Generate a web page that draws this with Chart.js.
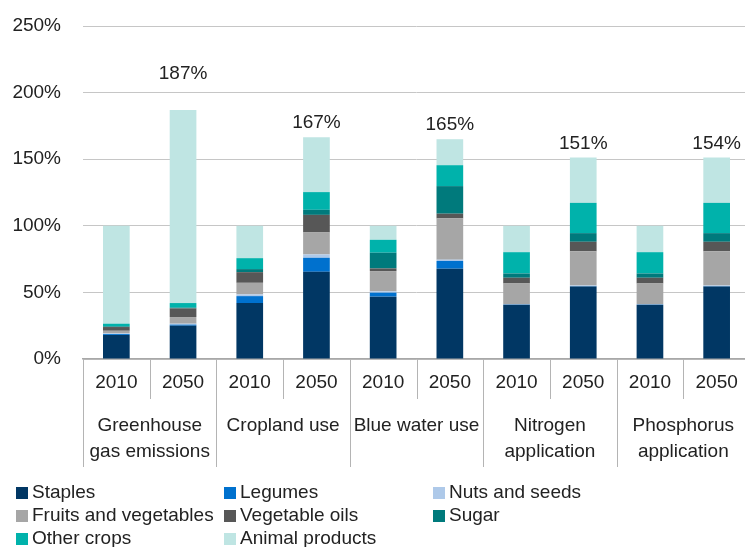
<!DOCTYPE html>
<html>
<head>
<meta charset="utf-8">
<script src="https://cdn.jsdelivr.net/npm/chart.js@4/dist/chart.umd.min.js"></script>
<style>
	body { margin:0; background:#fff; overflow:hidden; width:745px; height:547px; }
	#wrap { position:absolute; left:0; top:0; width:760px; height:547px; }
	#legend { position:absolute; left:0; top:0; width:745px; height:547px; pointer-events:none;
		font-family:"Liberation Sans", Arial, sans-serif; font-size:19px; color:#222; }
	.item { position:absolute; height:23px; line-height:23px; white-space:nowrap; }
	.item span { display:inline-block; width:12px; height:12px; margin-right:4px; vertical-align:-1px; }
</style>
</head>
<body>
<div id="wrap"><canvas id="c" width="760" height="547"></canvas></div>
<div id="legend"></div>
<script>
const years = ['2010','2050','2010','2050','2010','2050','2010','2050','2010','2050']
const groups = [['Greenhouse','gas emissions'], ['Cropland use'], ['Blue water use'], ['Nitrogen','application'], ['Phosphorus','application']]
const yTicks = [0, 50, 100, 150, 200, 250]

const staples = [18, 25, 42, 65.5, 46.8, 67.8, 40.8, 54.5, 40.8, 54.5]
const legumes = [0.7, 0.8, 5.2, 10.5, 3, 5.8, 0.2, 0.3, 0.2, 0.3]
const nuts = [0.5, 0.7, 1.3, 2.5, 1, 1, 0.3, 0.4, 0.3, 0.4]
const fruitsVeg = [2, 5, 8.7, 16.5, 15.2, 31, 15.4, 25.6, 15.4, 25.6]
const vegOils = [2.8, 6.5, 8, 13.2, 2, 3.5, 4.3, 7.2, 4.3, 7.2]
const sugar = [0.5, 0.5, 2.3, 3.8, 11.8, 20.7, 3.2, 6.5, 3.2, 6.5]
const otherCrops = [2, 3.5, 8.2, 13.3, 9.7, 15.7, 16, 22.7, 16, 22.7]
const animal = [73.5, 145, 24.3, 41.2, 10.5, 19.5, 19.8, 34, 19.8, 34]
const totals = [null, 187, null, 167, null, 165, null, 151, null, 154]

const series = [
	['Staples', staples, '#013764'],
	['Legumes', legumes, '#0071ce'],
	['Nuts and seeds', nuts, '#aec9e9'],
	['Fruits and vegetables', fruitsVeg, '#a6a6a6'],
	['Vegetable oils', vegOils, '#575757'],
	['Sugar', sugar, '#007a7c'],
	['Other crops', otherCrops, '#00b2ab'],
	['Animal products', animal, '#bfe5e3'],
]

const FONT = '"Liberation Sans", Arial, sans-serif'
const TXT = '#222'

// axis labels, separators and totals
const axisPlugin = {
	id: 'axisPlugin',
	afterDraw: chart => {
		const ctx = chart.ctx, xs = chart.scales.x, ys = chart.scales.y
		const w = xs.width / years.length, base = chart.chartArea.bottom
		ctx.save()
		ctx.strokeStyle = '#b4b4b4'
		ctx.lineWidth = 1
		for (let i = 0; i <= years.length; i++) {
			const x = Math.round(xs.left + i * w) + 0.5
			ctx.beginPath()
			ctx.moveTo(x, base)
			ctx.lineTo(x, i % 2 ? 399 : 467)
			ctx.stroke()
		}
		ctx.fillStyle = TXT
		ctx.font = `19px ${FONT}`
		ctx.textAlign = 'center'
		ctx.textBaseline = 'middle'
		years.forEach((y, i) => ctx.fillText(y, xs.getPixelForValue(i), 383))
		groups.forEach((g, i) => {
			const x = xs.left + (i * 2 + 1) * w
			g.forEach((t, j) => ctx.fillText(t, x, 426 + j * 26))
		})
		const extra = chart.options.plugins.axisPlugin.offsets
		totals.forEach((t, i) => {
			if (t == null) return
			const sum = series.reduce((s, d) => s + d[1][i], 0)
			ctx.fillText(`${t}%`, xs.getPixelForValue(i), ys.getPixelForValue(sum) - (extra[i] || 14))
		})
		ctx.restore()
	}
}

new Chart(document.getElementById('c'), {
	type: 'bar',
	data: {
		labels: years,
		datasets: series.map(s => ({
			label: s[0], data: s[1], backgroundColor: s[2], borderWidth: 0,
			barPercentage: 0.4, categoryPercentage: 1,
		}))
	},
	options: {
		responsive: false,
		animation: false,
		layout: { padding: { top: 26, right: 10, left: 0, bottom: 0 } },
		scales: {
			x: {
				stacked: true,
				grid: { display: false },
				border: { display: true, color: '#a8a8a8', width: 1.5 },
				ticks: { display: false },
				afterFit: s => { s.height = 188 },
			},
			y: {
				stacked: true,
				min: 0, max: 250,
				afterBuildTicks: s => { s.ticks = yTicks.map(v => ({ value: v })) },
				grid: { color: '#c6c6c6', drawTicks: false },
				border: { display: false },
				ticks: { padding: 22, color: TXT, font: { family: FONT, size: 19 }, callback: v => `${v}%` },
				afterFit: s => { s.width = 83; s.paddingTop = 0; s.paddingBottom = 0 },
			}
		},
		plugins: {
			legend: { display: false },
			tooltip: { enabled: false },
			axisPlugin: { offsets: { 1: 36 } },
		}
	},
	plugins: [axisPlugin]
})

// legend in three columns like the original
const cols = [16, 224, 433]
const leg = document.getElementById('legend')
series.forEach((s, i) => {
	const d = document.createElement('div')
	d.className = 'item'
	d.style.left = cols[i % 3] + 'px'
	d.style.top = (480 + Math.floor(i / 3) * 23) + 'px'
	d.innerHTML = `<span style="background:${s[2]}"></span>${s[0]}`
	leg.appendChild(d)
})
</script>
</body>
</html>
